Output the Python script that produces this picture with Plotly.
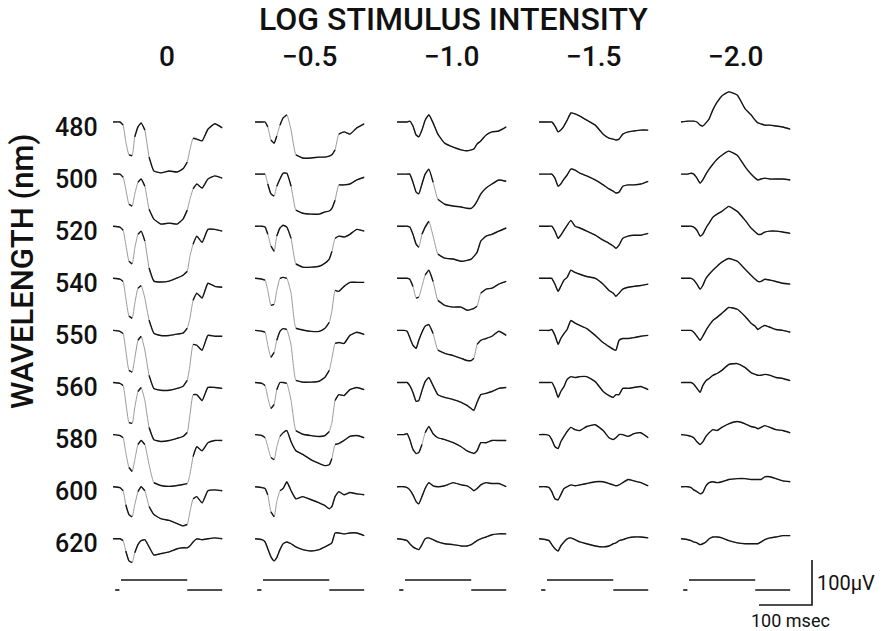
import plotly.graph_objects as go

# ---------------- data ----------------
# sample times relative to stimulus onset (ms)
TIME_MS = [-15, -2, 4, 9, 15, 21, 26, 32, 38, 45, 53, 62, 75, 91, 106, 117,
           125, 130, 136, 143, 153, 164, 177, 191]

WAVELENGTHS = ["480", "500", "520", "540", "550", "560", "580", "600", "620"]
INTENSITY_LABELS = ["0", "\u22120.5", "\u22121.0", "\u22121.5", "\u22122.0"]

# responses in microvolts, one list per wavelength (480 ... 620 nm)
RESP_LOG_0 = [
    [0, 0, -7, -44, -73, -75, -33, -11, -2, -18, -78, -109, -113, -109, -111, -104, -89, -62, -36, -38, -42, -16, -4, -13],
    [0, 0, -7, -33, -67, -71, -44, -18, -11, -27, -78, -100, -111, -109, -111, -100, -80, -56, -33, -22, -31, -11, -4, -9],
    [0, -2, -9, -40, -78, -84, -49, -18, -11, -33, -93, -122, -124, -122, -115, -109, -100, -67, -40, -22, -36, -7, -7, -11],
    [0, -2, -7, -44, -84, -89, -56, -22, -16, -44, -93, -122, -127, -127, -124, -122, -111, -89, -49, -33, -44, -11, -18, -20],
    [0, -2, -7, -44, -89, -93, -62, -22, -13, -44, -100, -129, -133, -133, -129, -124, -111, -78, -31, -33, -44, -11, -13, -13],
    [0, -2, -7, -44, -89, -91, -56, -20, -11, -40, -100, -127, -131, -129, -124, -120, -111, -73, -27, -27, -40, -11, -11, -13],
    [0, -2, -7, -40, -73, -82, -56, -22, -13, -22, -67, -107, -113, -115, -113, -111, -109, -89, -49, -27, -36, -18, -13, -13],
    [0, -2, -9, -40, -62, -67, -40, -11, 0, -9, -44, -62, -71, -75, -82, -87, -84, -56, -27, -22, -36, -9, -7, -9],
    [0, 0, -4, -27, -49, -53, -31, -13, -4, -2, -18, -36, -33, -29, -22, -20, -20, -16, -7, 0, -2, 0, 2, 0],
]
RESP_LOG_M05 = [
    [0, 0, 0, -11, -40, -47, -31, -7, 9, 16, -18, -73, -80, -80, -78, -78, -76, -73, -62, -27, -22, -27, -13, -4],
    [0, 0, 0, -22, -44, -49, -27, -11, 2, 2, -27, -80, -87, -89, -89, -84, -82, -76, -58, -24, -24, -22, -13, -7],
    [0, 0, -2, -18, -44, -56, -22, -4, 2, -2, -27, -84, -91, -91, -89, -82, -73, -56, -27, -22, -24, -18, -7, -11],
    [0, -2, -4, -27, -60, -58, -27, 0, 2, 0, -33, -111, -115, -118, -118, -111, -98, -73, -27, -29, -18, -9, -9, -9],
    [0, -2, -4, -33, -60, -49, -22, -2, 4, 2, -33, -111, -115, -115, -113, -104, -89, -62, -29, -27, -29, -11, -4, -9],
    [0, -2, -7, -33, -58, -49, -16, 0, 0, -2, -40, -107, -115, -118, -120, -118, -109, -89, -40, -27, -29, -16, -11, -16],
    [0, -2, -7, -27, -51, -56, -27, -4, 4, 9, -16, -36, -44, -56, -64, -69, -67, -53, -22, -20, -13, -4, -2, -7],
    [0, -2, -4, -18, -56, -67, -33, -9, -4, 11, -9, -27, -22, -29, -36, -42, -49, -44, -22, -11, -18, -13, -16, -18],
    [0, -2, -7, -22, -40, -49, -42, -24, -11, -7, -11, -18, -24, -27, -24, -18, -13, -9, 13, 13, 11, 13, 13, 7],
]
RESP_LOG_M10 = [
    [0, 0, 0, 2, -9, -29, -33, -18, 4, 16, -2, -27, -47, -56, -62, -64, -62, -60, -49, -42, -29, -22, -20, -11],
    [0, 0, 0, 0, -18, -40, -44, -22, 0, 11, -18, -56, -67, -71, -73, -76, -76, -71, -60, -44, -31, -22, -13, -16],
    [0, 0, 0, -2, -18, -40, -47, -18, -2, 11, -22, -62, -71, -73, -78, -76, -73, -67, -58, -33, -22, -18, -11, -4],
    [0, 0, 0, -2, -18, -44, -42, -18, 7, 18, -7, -49, -60, -64, -64, -71, -69, -67, -62, -33, -24, -22, -13, -7],
    [0, 0, -2, -16, -33, -40, -22, -4, 9, 13, -7, -44, -51, -56, -62, -67, -67, -62, -31, -22, -18, -13, -2, -11],
    [0, 0, 0, -7, -22, -42, -40, -18, 2, 11, -7, -27, -33, -38, -44, -51, -58, -62, -44, -27, -24, -20, -13, -11],
    [0, 0, 2, -11, -33, -42, -40, -22, 4, 18, 2, -7, -11, -18, -27, -36, -40, -42, -36, -18, -18, -13, -13, -13],
    [0, 0, -2, -7, -18, -33, -38, -22, -4, 9, 2, 0, 2, 9, 4, 2, -4, -9, -4, 4, 9, 7, 7, 0],
    [0, -2, -4, -11, -18, -22, -24, -13, 0, 2, -2, -7, -11, -13, -16, -16, -13, -9, -4, 0, 4, 9, 11, 11],
]
RESP_LOG_M15 = [
    [0, 0, 0, 0, -9, -22, -18, -9, 4, 20, 18, 13, 4, -7, -27, -36, -38, -40, -38, -27, -22, -20, -18, -18],
    [0, 0, 0, 0, -9, -27, -22, -11, -2, 11, 9, 2, -4, -13, -24, -33, -38, -42, -40, -27, -24, -24, -22, -16],
    [0, 0, 0, 0, -11, -27, -20, -9, 2, 13, 0, -4, -11, -20, -31, -38, -44, -49, -42, -27, -22, -20, -20, -16],
    [0, 0, 0, 0, -13, -29, -18, -4, 2, 18, 13, 9, 4, 0, -13, -27, -33, -40, -33, -24, -20, -18, -16, -13],
    [0, 0, 0, 2, -11, -31, -18, -7, 2, 22, 16, 11, 4, -11, -27, -36, -42, -44, -22, -18, -18, -16, -13, -11],
    [0, 0, 0, 0, -13, -33, -20, -9, 7, 13, 11, 13, 13, 2, -20, -29, -33, -27, -27, -13, -13, -11, -9, -16],
    [0, 0, -2, -11, -27, -31, -16, -4, 7, 16, 11, 9, 18, 22, 9, -7, -11, -7, 0, 0, -4, 2, 4, -7],
    [0, 0, -2, -11, -27, -29, -18, -4, 0, 4, 2, 4, 7, 11, 11, 7, 4, 2, 4, 9, 16, 13, 9, 2],
    [0, -2, -4, -13, -22, -27, -16, -7, 0, 2, -2, -7, -11, -16, -18, -16, -11, -9, -4, -2, 2, 4, 4, 2],
]
RESP_LOG_M20 = [
    [0, 2, 2, 2, 0, -7, -9, -2, 7, 27, 44, 58, 67, 60, 29, 16, 4, -2, -4, -7, -7, -9, -11, -16],
    [0, 0, 2, 0, -9, -20, -13, 0, 11, 22, 33, 42, 51, 42, 16, 0, -9, -13, -11, -9, -11, -11, -11, -13],
    [0, 0, 0, -2, -9, -22, -18, -4, 7, 20, 27, 33, 44, 33, 13, -4, -13, -18, -18, -13, -11, -11, -13, -16],
    [0, 0, 0, -4, -13, -24, -16, 0, 9, 18, 27, 36, 44, 38, 20, 7, -2, -7, -7, -2, -4, -7, -11, -13],
    [0, 0, 0, -4, -13, -22, -13, 0, 11, 22, 29, 38, 51, 47, 31, 16, 9, 2, 7, 11, 7, 2, 0, -4],
    [0, 0, 0, -4, -13, -22, -7, 4, 9, 16, 20, 27, 40, 42, 33, 22, 18, 16, 16, 18, 16, 11, 9, 4],
    [0, -2, -4, -7, -16, -22, -16, -4, 4, 11, 9, 16, 24, 29, 24, 18, 16, 13, 16, 20, 16, 11, 9, 4],
    [0, 0, -2, -7, -11, -16, -13, 2, 9, 11, 9, 11, 16, 18, 18, 16, 16, 16, 16, 22, 22, 18, 13, 11],
    [0, -2, -4, -7, -9, -13, -11, -7, 0, 4, 4, 2, -4, -9, -11, -11, -11, -11, -7, -2, 2, 4, 7, 7],
]
RESPONSES = [RESP_LOG_0, RESP_LOG_M05, RESP_LOG_M10, RESP_LOG_M15, RESP_LOG_M20]

# stimulus marker (ms) and calibration bar sizes
STIM_ON_MS = 0
STIM_OFF_MS = 125
RECORD_START_MS = -11
RECORD_END_MS = 191
SCALE_BAR_MS = 100
SCALE_BAR_UV = 100

# ---------------- layout helpers ----------------
W, H = 882, 631
MS_PER_PX = 100 / 53.0
UV_PER_PX = 100 / 45.0


def xpx(px):
    return px * MS_PER_PX


def ypx(py):
    return (H - py) * UV_PER_PX


COL_ONSET_PX = [121 + 142 * c for c in range(5)]
ROW_BASE_PX = [122 + 52.1 * r for r in range(9)]
STEEP = 3.2  # px/px slope above which the photographed pen trace fades

faint_x, faint_y, dark_x, dark_y = [], [], [], []
for c, block in enumerate(RESPONSES):
    x0 = xpx(COL_ONSET_PX[c])
    for r, vals in enumerate(block):
        y0 = ypx(ROW_BASE_PX[r])
        X = [x0 + t for t in TIME_MS]
        Y = [y0 + v for v in vals]
        faint_x += X + [None]
        faint_y += Y + [None]
        # dark overlay only on the slower parts of the trace
        run_open = False
        for i in range(len(X) - 1):
            slope = abs((Y[i + 1] - Y[i]) / UV_PER_PX) / ((X[i + 1] - X[i]) / MS_PER_PX)
            if slope <= STEEP:
                if not run_open:
                    dark_x.append(X[i])
                    dark_y.append(Y[i])
                    run_open = True
                dark_x.append(X[i + 1])
                dark_y.append(Y[i + 1])
            elif run_open:
                dark_x.append(None)
                dark_y.append(None)
                run_open = False
        dark_x.append(None)
        dark_y.append(None)

fig = go.Figure()
fig.add_trace(go.Scatter(x=faint_x, y=faint_y, mode="lines",
                         line=dict(color="#9a9a9a", width=1.0, shape="spline", smoothing=0.4),
                         hoverinfo="skip", showlegend=False))
fig.add_trace(go.Scatter(x=dark_x, y=dark_y, mode="lines",
                         line=dict(color="#151515", width=1.4, shape="spline", smoothing=0.4),
                         hoverinfo="skip", showlegend=False))

# stimulus markers
STIM_LOW_PY = 590
STIM_STEP_UV = 10 * UV_PER_PX
sx, sy = [], []
for c in range(5):
    x0 = xpx(COL_ONSET_PX[c])
    yb = ypx(STIM_LOW_PY)
    sx += [x0 + RECORD_START_MS, x0 + RECORD_START_MS + 8, None,
           x0 + STIM_ON_MS, x0 + STIM_OFF_MS, None,
           x0 + STIM_OFF_MS, x0 + RECORD_END_MS, None]
    sy += [yb, yb, None, yb + STIM_STEP_UV, yb + STIM_STEP_UV, None, yb, yb, None]
fig.add_trace(go.Scatter(x=sx, y=sy, mode="lines", line=dict(color="#151515", width=1.6),
                         hoverinfo="skip", showlegend=False))

# calibration bar
bx = xpx(812)
by = ypx(605)
fig.add_trace(go.Scatter(x=[bx - SCALE_BAR_MS, bx, bx], y=[by, by, by + SCALE_BAR_UV],
                         mode="lines", line=dict(color="#151515", width=1.6),
                         hoverinfo="skip", showlegend=False))

FONT = "Roboto, sans-serif"
ann = []


def txt(text, px, py, size, xanchor="center", angle=0, weight=500):
    ann.append(dict(text=text, x=px / W, y=1 - py / H, xref="paper", yref="paper",
                    xanchor=xanchor, yanchor="middle", showarrow=False, textangle=angle,
                    borderpad=0,
                    font=dict(family=FONT, size=size, color="#111111", weight=weight)))


txt("LOG STIMULUS INTENSITY", 453, 19, 32)
for c, lab in enumerate(INTENSITY_LABELS):
    txt(lab, COL_ONSET_PX[c] + 46, 57, 28)
for r, wl in enumerate(WAVELENGTHS):
    txt(wl, 99, ROW_BASE_PX[r] + 5, 25, xanchor="right")
txt("WAVELENGTH (nm)", 22, 272, 31, angle=-90)
txt("100\u00b5V", 816, 583, 20, xanchor="left", weight="normal")
txt("100 msec", 790, 620, 18, weight="normal")

fig.update_layout(
    width=W, height=H, margin=dict(l=0, r=0, t=0, b=0),
    paper_bgcolor="white", plot_bgcolor="white",
    xaxis=dict(range=[0, W * MS_PER_PX], visible=False, domain=[0, 1], fixedrange=True),
    yaxis=dict(range=[0, H * UV_PER_PX], visible=False, domain=[0, 1], fixedrange=True),
    annotations=ann,
)

fig.write_html("out.html", config={"displayModeBar": False},
               post_script="document.body.style.margin='0';document.body.style.overflow='hidden';")
